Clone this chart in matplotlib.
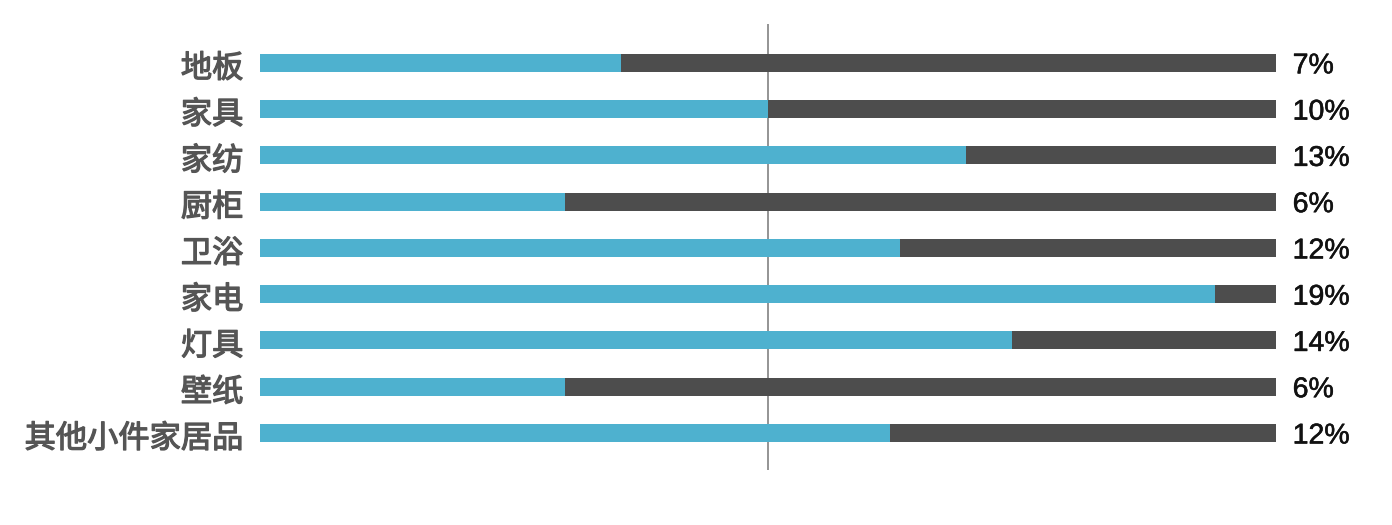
import matplotlib
matplotlib.use("Agg")
import matplotlib.pyplot as plt
import matplotlib.patheffects as pe
from matplotlib.transforms import ScaledTranslation

categories = ["地板", "家具", "家纺", "厨柜", "卫浴", "家电", "灯具", "壁纸", "其他小件家居品"]
values = [7.1, 10.0, 13.9, 6.0, 12.6, 18.8, 14.8, 6.0, 12.4]
labels = ["7%", "10%", "13%", "6%", "12%", "19%", "14%", "6%", "12%"]
total = 20.0
midline = 10.0

plt.rcParams['font.family'] = ['Noto Sans CJK SC', 'DejaVu Sans']

fig = plt.figure(figsize=(13.92, 5.25), dpi=100)
ax = fig.add_axes([260/1392, 1-470/525, (1276-260)/1392, (470-24)/525])

ypos = list(range(len(categories)))
h = 0.39
ax.barh(ypos, [total]*len(values), height=h, color="#4d4d4d", edgecolor="none", zorder=2)
ax.barh(ypos, values, height=h, color="#4eb1cf", edgecolor="none", zorder=3)
ax.axvline(midline, color="#777777", lw=1.1, zorder=1)

ax.set_xlim(0, total)
ax.set_ylim(8.80, -0.84)
ax.set_yticks(ypos)
ax.set_yticklabels(categories, fontsize=22.5, color="#555555")
ax.tick_params(axis='y', length=0, pad=12)
ax.set_xticks([])
for s in ax.spines.values():
    s.set_visible(False)
off = ScaledTranslation(0, -1.5/72, fig.dpi_scale_trans)
for t in ax.get_yticklabels():
    t.set_transform(t.get_transform() + off)
    t.set_path_effects([pe.withStroke(linewidth=0.9, foreground="#555555")])

for y, lab in zip(ypos, labels):
    ax.annotate(lab, xy=(total, y), xytext=(12, -2.5), textcoords="offset points",
                ha="left", va="center", fontsize=20.5, color="#111111",
                family=["Liberation Sans", "DejaVu Sans"],
                path_effects=[pe.withStroke(linewidth=0.4, foreground="#111111")])

fig.savefig("out.png", dpi=100)
